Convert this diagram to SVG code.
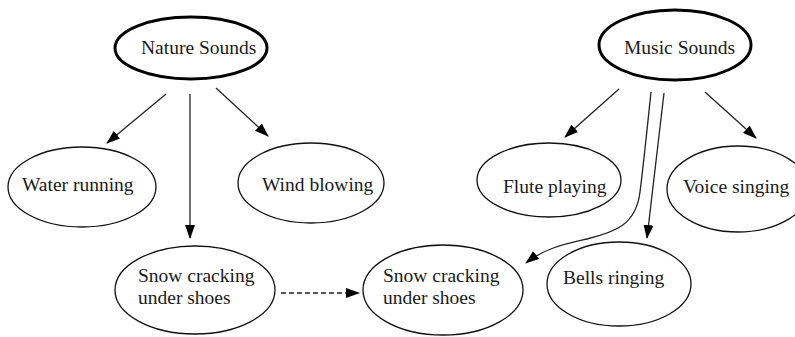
<svg xmlns="http://www.w3.org/2000/svg" width="795" height="337" viewBox="0 0 795 337">
  <style>
    .node { fill: #ffffff; stroke: #111111; stroke-width: 1.3; }
    .root { fill: #ffffff; stroke: #000000; stroke-width: 3; }
    .label { font-family: "Liberation Serif", "Times New Roman", serif; font-size: 19.5px; fill: #1a1a1a; }
    .edge { fill: none; stroke: #222222; stroke-width: 1.3; }
    .dashed { stroke-dasharray: 5 3; }
  </style>
  <defs>
    <marker id="arrow" viewBox="0 0 14 10" refX="13" refY="5" markerWidth="14" markerHeight="10" markerUnits="userSpaceOnUse" orient="auto">
      <path d="M0,0 L14,5 L0,10 Z" fill="#000000"/>
    </marker>
  </defs>

  <rect width="795" height="337" fill="#ffffff"/>

  <g id="connectors">
    <line class="edge" x1="166" y1="94" x2="107" y2="143" marker-end="url(#arrow)"/>
    <line class="edge" x1="190" y1="94" x2="190" y2="238" marker-end="url(#arrow)"/>
    <line class="edge" x1="216" y1="88" x2="268" y2="136" marker-end="url(#arrow)"/>
    <line class="edge dashed" x1="281" y1="293" x2="359" y2="293" marker-end="url(#arrow)"/>
    <line class="edge" x1="619" y1="89" x2="565" y2="137" marker-end="url(#arrow)"/>
    <line class="edge" x1="705" y1="92" x2="756" y2="138" marker-end="url(#arrow)"/>
    <path class="edge" d="M651,92 C647,130 644,160 640,192 C636,225 615,232 587,239 C565,244 545,248 526,263" marker-end="url(#arrow)"/>
    <line class="edge" x1="664" y1="93" x2="647" y2="238" marker-end="url(#arrow)"/>
  </g>

  <g id="nature-sounds">
    <ellipse class="root" cx="191" cy="48" rx="76" ry="31"/>
    <text class="label" x="141" y="54">Nature Sounds</text>
  </g>
  <g id="music-sounds">
    <ellipse class="root" cx="675" cy="45" rx="76" ry="35"/>
    <text class="label" x="624" y="54">Music Sounds</text>
  </g>
  <g id="water-running">
    <ellipse class="node" cx="82" cy="187" rx="74" ry="40"/>
    <text class="label" x="22" y="191">Water running</text>
  </g>
  <g id="wind-blowing">
    <ellipse class="node" cx="311" cy="183" rx="73" ry="40"/>
    <text class="label" x="262" y="191">Wind blowing</text>
  </g>
  <g id="snow-cracking-nature">
    <ellipse class="node" cx="195" cy="290" rx="80" ry="44"/>
    <text class="label" x="138" y="282">Snow cracking</text>
    <text class="label" x="138" y="304">under shoes</text>
  </g>
  <g id="snow-cracking-music">
    <ellipse class="node" cx="443" cy="290" rx="80" ry="45"/>
    <text class="label" x="383" y="282">Snow cracking</text>
    <text class="label" x="383" y="304">under shoes</text>
  </g>
  <g id="flute-playing">
    <ellipse class="node" cx="549" cy="180" rx="72" ry="37"/>
    <text class="label" x="503" y="193">Flute playing</text>
  </g>
  <g id="voice-singing">
    <ellipse class="node" cx="738" cy="189" rx="71" ry="43"/>
    <text class="label" x="683" y="193">Voice singing</text>
  </g>
  <g id="bells-ringing">
    <ellipse class="node" cx="619" cy="284" rx="72" ry="42"/>
    <text class="label" x="563" y="284">Bells ringing</text>
  </g>
</svg>
